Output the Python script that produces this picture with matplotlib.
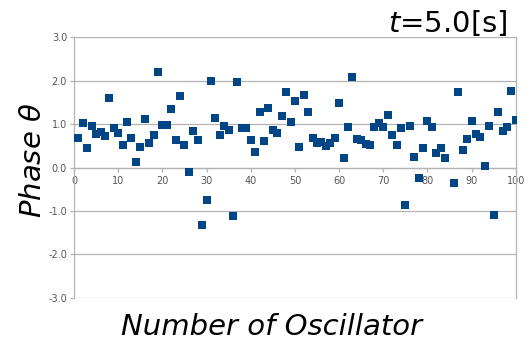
import numpy as np
import matplotlib
matplotlib.use("Agg")
import matplotlib.pyplot as plt

plt.rcParams['mathtext.fontset'] = 'dejavusans'

# oscillator index (no. 85 lies outside the plotted range)
osc = [1, 2, 3, 4, 5, 6, 7, 8, 9, 10,
       11, 12, 13, 14, 15, 16, 17, 18, 19, 20,
       21, 22, 23, 24, 25, 26, 27, 28, 29, 30,
       31, 32, 33, 34, 35, 36, 37, 38, 39, 40,
       41, 42, 43, 44, 45, 46, 47, 48, 49, 50,
       51, 52, 53, 54, 55, 56, 57, 58, 59, 60,
       61, 62, 63, 64, 65, 66, 67, 68, 69, 70,
       71, 72, 73, 74, 75, 76, 77, 78, 79, 80,
       81, 82, 83, 84, 86, 87, 88, 89, 90,
       91, 92, 93, 94, 95, 96, 97, 98, 99, 100]
phase = [0.67, 1.02, 0.44, 0.95, 0.77, 0.82, 0.72, 1.60, 0.90, 0.80,
         0.52, 1.04, 0.67, 0.12, 0.48, 1.11, 0.57, 0.75, 2.19, 0.98,
         0.98, 1.34, 0.63, 1.65, 0.52, -0.10, 0.85, 0.63, -1.32, -0.75,
         2.00, 1.15, 0.75, 0.96, 0.86, -1.11, 1.97, 0.90, 0.92, 0.63,
         0.36, 1.28, 0.62, 1.37, 0.86, 0.79, 1.18, 1.74, 1.05, 1.54,
         0.48, 1.67, 1.28, 0.69, 0.56, 0.59, 0.49, 0.57, 0.69, 1.49,
         0.22, 0.94, 2.09, 0.65, 0.63, 0.54, 0.52, 0.94, 1.03, 0.94,
         1.20, 0.74, 0.51, 0.92, -0.87, 0.95, 0.25, -0.23, 0.46, 1.06,
         0.94, 0.34, 0.46, 0.23, -0.36, 1.73, 0.40, 0.65, 1.06,
         0.76, 0.70, 0.04, 0.95, -1.10, 1.28, 0.83, 0.94, 1.77, 1.09]

xticks = [0, 10, 20, 30, 40, 50, 60, 70, 80, 90, 100]
yticks = [-3.0, -2.0, -1.0, 0.0, 1.0, 2.0, 3.0]

fig = plt.figure(figsize=(5.29, 3.44), dpi=100)
ax = fig.add_axes([0.140, 0.134, 0.835, 0.758])

ax.scatter(osc, phase, marker='s', s=34, color='#004586', zorder=3, linewidths=0)

ax.set_xlim(0, 100)
ax.set_ylim(-3, 3)
ax.set_xticks(xticks)
ax.set_yticks(yticks)
ax.set_yticklabels(['%.1f' % v for v in yticks])

gray = '#b3b3b3'
ax.grid(axis='y', color=gray, linewidth=0.9, zorder=0)
ax.spines['top'].set_visible(False)
ax.spines['bottom'].set_position(('data', 0))
for s in ['bottom', 'left', 'right']:
    ax.spines[s].set_color(gray)
    ax.spines[s].set_linewidth(0.9)

ax.tick_params(axis='both', colors=gray, length=3, width=0.9, labelsize=7)
ax.tick_params(axis='y', labelcolor='#555555', pad=2)
ax.tick_params(axis='x', labelcolor='#555555', pad=3)

fig.text(0.960, 0.907, '$t$=5.0[s]', fontsize=21, ha='right', va='baseline')
fig.text(0.062, 0.535, r'Phase $\theta$', fontsize=21, style='italic',
         rotation=90, ha='center', va='center')
fig.text(0.514, 0.026, 'Number of Oscillator', fontsize=21, style='italic',
         ha='center', va='baseline')

fig.savefig('out.png', dpi=100)
